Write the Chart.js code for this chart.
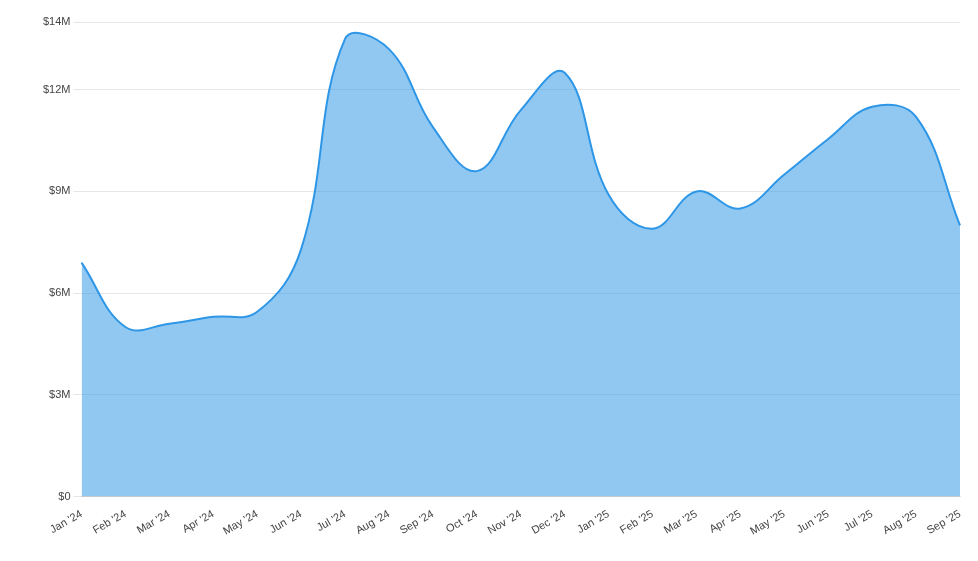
<!DOCTYPE html>
<html>
<head>
<meta charset="utf-8">
<script src="https://cdn.jsdelivr.net/npm/chart.js@4"></script>
<style>
  html, body { margin: 0; padding: 0; background: #fff; }
  #wrap { width: 978px; height: 561px; }
</style>
</head>
<body>
<div id="wrap"><canvas id="grafico"></canvas></div>
<script>
const months = ["Jan '24", "Feb '24", "Mar '24", "Apr '24", "May '24", "Jun '24", "Jul '24", "Aug '24", "Sep '24", "Oct '24", "Nov '24", "Dec '24",
  "Jan '25", "Feb '25", "Mar '25", "Apr '25", "May '25", "Jun '25", "Jul '25", "Aug '25", "Sep '25"];
const revenue = [6.9, 5.0, 5.1, 5.3, 5.45, 7.3, 13.5, 13.2, 10.9, 9.6, 11.4, 12.5,
  8.9, 7.9, 9.0, 8.5, 9.5, 10.55, 11.5, 11.2, 8.0];

const data = {
  labels: months,
  datasets: [{
    data: revenue,
    fill: true,
    backgroundColor: 'rgba(54, 155, 232, 0.55)',
    borderColor: 'rgb(45, 150, 230)',
    borderWidth: 2,
    pointRadius: 0,
    tension: 0.4
  }]
};

const config = {
  type: 'line',
  data: data,
  options: {
    responsive: true,
    maintainAspectRatio: false,
    animation: false,
    layout: { padding: { top: 22, right: 18, left: 40, bottom: 20 } },
    plugins: { legend: { display: false }, tooltip: { enabled: false } },
    scales: {
      x: {
        grid: { display: false },
        ticks: { maxRotation: 30, minRotation: 30, color: '#444', font: { size: 11 } }
      },
      y: {
        min: 0,
        max: 14,
        ticks: {
          stepSize: 3,
          color: '#444',
          font: { size: 11 },
          callback: v => '$' + v + (v === 0 ? '' : 'M')
        },
        grid: { color: '#e6e6e6' },
        border: { display: false }
      }
    }
  }
};

new Chart(document.getElementById('grafico'), config);
</script>
</body>
</html>
